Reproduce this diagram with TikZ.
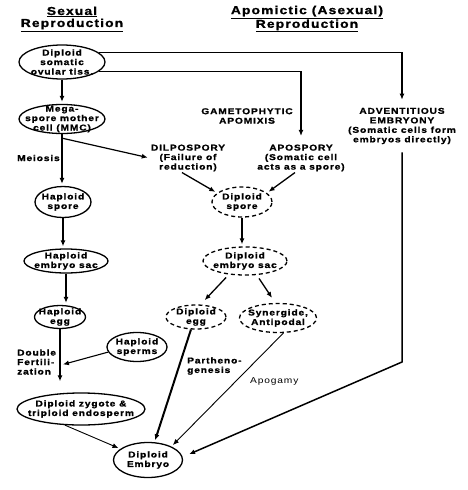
\documentclass[tikz,border=0pt]{standalone}
\usepackage{fontspec}
\setmainfont{Liberation Sans}[FakeStretch=1.2, LetterSpace=10, BoldFeatures={FakeBold=1.2}]
\usetikzlibrary{shapes.geometric, arrows.meta}
\newcommand{\nodefont}{\bfseries\fontsize{8.5}{9.5}\selectfont}
\newcommand{\headfont}{\bfseries\fontsize{11.5}{12}\selectfont}

\begin{document}
\begin{tikzpicture}[x=1pt, y=-1pt,
    every node/.style={align=center, font=\nodefont, inner sep=1pt},
    oval/.style 2 args={ellipse, draw, line width=1.3pt, inner sep=0pt, minimum width=#1pt, minimum height=#2pt},
    dashoval/.style 2 args={oval={#1}{#2}, dash pattern=on 4pt off 3pt},
    thk/.style={line width=1.8pt, -{Latex[length=6pt,width=5pt]}, shorten >=2pt},
    thn/.style={line width=0.9pt, -{Latex[length=6pt,width=5pt]}, shorten >=2pt}]
    \useasboundingbox (0,0) rectangle (468,490);

    % Headings
    \node[font=\headfont] (sexhead) at (72,19) {\underline{Sexual}\\\underline{Reproduction}};
    \node[font=\headfont] (apohead) at (307,19) {\underline{Apomictic (Asexual)}\\\underline{Reproduction}};

    % Sexual reproduction
    \node[oval={86}{34}, label=center:{Diploid\\somatic\\ovular tiss.}] (tiss) at (62,62) {};
    \node[oval={86}{29}, label=center:{Mega-\\spore mother\\cell (MMC)}] (mmc) at (62,119) {};
    \node[oval={56}{31}, label=center:{Haploid\\spore}] (hspore) at (63,202) {};
    \node[oval={84}{24}, label=center:{Haploid\\embryo sac}] (hsac) at (66,261) {};
    \node[oval={51}{23}, label=center:{Haploid\\egg}] (hegg) at (60,317) {};
    \node[oval={60}{29}, label=center:{Haploid\\sperms}] (sperm) at (137,347) {};
    \node[oval={128}{32}, label=center:{Diploid zygote \&\\triploid endosperm}] (zyg) at (81,409) {};
    \node[oval={69}{35}, label=center:{Diploid\\Embryo}] (emb) at (148,460) {};

    \node[anchor=west] (meiosis) at (16,158) {Meiosis};
    \node[anchor=west, align=left] (dblfert) at (16,362) {Double\\Fertili-\\zation};

    % Apomictic reproduction
    \node (gam) at (247,116) {GAMETOPHYTIC\\APOMIXIS};
    \node (dilpo) at (188,158) {DILPOSPORY\\(Failure of\\reduction)};
    \node (apospo) at (301,158) {APOSPORY\\(Somatic cell\\acts as a spore)};
    \node (advent) at (402,126) {ADVENTITIOUS\\EMBRYONY\\(Somatic cells form\\embryos directly)};

    \node[dashoval={60}{30}, label=center:{Diploid\\spore}] (dspore) at (242,202) {};
    \node[dashoval={84}{28}, label=center:{Diploid\\embryo sac}] (dsac) at (245,261) {};
    \node[dashoval={60}{24}, label=center:{Diploid\\egg}] (degg) at (196,317) {};
    \node[dashoval={77}{29}, label=center:{Synergide,\\Antipodal}] (syn) at (278,318) {};

    \node[anchor=west, align=left] (partheno) at (186,366) {Partheno-\\genesis};
    \node[anchor=west, font={\nodefont\mdseries}] (apogamy) at (249,381) {Apogamy};

    % Connect sexual column
    \draw[thk] (tiss.south) -- (mmc.north);
    \draw[thk] (mmc.south) -- (mmc.south |- hspore.north);
    \foreach \a/\b in {hspore/hsac, hsac/hegg} {
        \draw[thk] (\a.south) -- (\a.south |- \b.north);
    }
    \draw[thk, line width=2.4pt, shorten >=11pt] (hegg.south) -- (hegg.south |- zyg.north);
    \coordinate (fert) at (61,365);
    \draw[thn, line width=1.1pt] (sperm.190) -- (fert);
    \draw[thn] (zyg.-135) -- (emb.158);

    % Branches from the somatic tissue and the MMC
    \coordinate (br) at ([yshift=-4pt]mmc.south);
    \draw[thn, line width=1.2pt] (br) -- (dilpo.west);
    \draw[thn, line width=1.3pt] (tiss.14) -| ([yshift=5pt]advent.north);
    \draw[thn, line width=1.3pt] (tiss.-14) -| ([yshift=5.5pt]apospo.north);

    % Connect gametophytic apomixis
    \draw[thk, line width=1.3pt] ([xshift=-6pt]dilpo.south) -- (dspore.160);
    \draw[thk, line width=1.3pt] ([xshift=-6pt]apospo.south) -- (dspore.20);
    \draw[thk] (dspore.south) -- (dspore.south |- dsac.north);
    \draw[thk, line width=1.3pt, shorten <=4pt, shorten >=6pt] (dsac.-140) -- (degg.70);
    \draw[thk, line width=1.3pt, shorten <=4pt, shorten >=6pt] (dsac.-50) -- (syn.100);
    \draw[thk, line width=2pt] (degg.-112) -- (emb.70);
    \draw[thn] (syn.-70) -- (emb.30);

    % Adventitious embryony
    \coordinate (bend) at (advent.south |- 0,362);
    \draw[thk, line width=1.5pt, shorten >=7pt] ([yshift=-7pt]advent.south) -- (bend) -- (emb.5);
\end{tikzpicture}
\end{document}
